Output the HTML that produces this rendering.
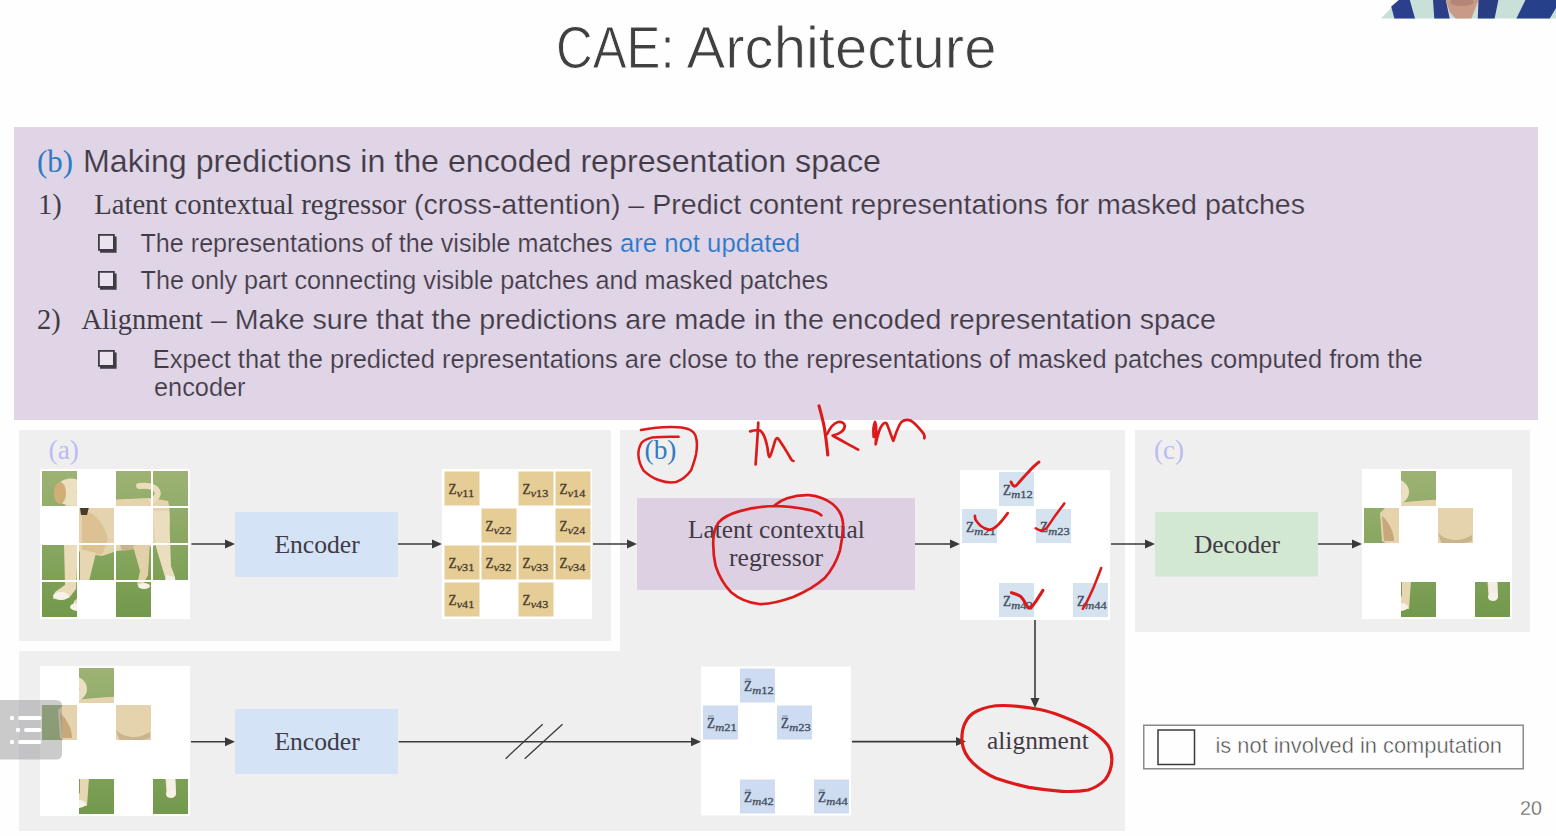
<!DOCTYPE html>
<html><head><meta charset="utf-8"><style>
html,body{margin:0;padding:0;background:#fefefe;width:1556px;height:836px;overflow:hidden}
svg{display:block;position:absolute;left:0;top:0}
</style></head><body>
<svg width="1556" height="836" viewBox="0 0 1556 836">
<text x="556" y="67.7" font-family="Liberation Sans" font-size="58.5" fill="#404040" textLength="118.5" lengthAdjust="spacingAndGlyphs" stroke="#fefefe" stroke-width="0.9">CAE:</text>
<text x="686.5" y="67.7" font-family="Liberation Sans" font-size="58.5" fill="#404040" textLength="310" lengthAdjust="spacingAndGlyphs" stroke="#fefefe" stroke-width="0.9">Architecture</text>
<g><polygon points="1380.9,18.6 1398.9,0 1556,0 1556,18.6" fill="#c9e0d8"/><polygon points="1394.4,18.6 1391.2,6.5 1398.9,0 1409.8,0 1415,18.6" fill="#2c3f8c"/><polygon points="1433,0 1445.8,0 1449.7,18.6 1434.3,18.6" fill="#2d3f86"/><polygon points="1445.8,0 1478.5,0 1471.4,18.6 1455.5,18.6 1449.7,12" fill="#c99a88"/><ellipse cx="1462" cy="2" rx="12" ry="4" fill="#a77a6e" opacity="0.6"/><polygon points="1478.5,0 1498.4,0 1494.6,18.6 1477.8,18.6" fill="#2a3d82"/><polygon points="1525.4,0 1556,0 1556,8 1549.8,18.6 1516.4,18.6" fill="#27408a"/></g>
<rect x="14" y="127" width="1524" height="293" fill="#e0d5e6"/>
<text x="37" y="172.2" font-family="Liberation Serif" font-size="32" fill="#2e7bc4" textLength="36" lengthAdjust="spacingAndGlyphs" >(b)</text>
<text x="83" y="172.4" font-family="Liberation Sans" font-size="32" fill="#413b45" textLength="798" lengthAdjust="spacingAndGlyphs"  stroke="#e0d5e6" stroke-width="0.2">Making predictions in the encoded representation space</text>
<text x="38" y="214" font-family="Liberation Serif" font-size="28.5" fill="#413b45" >1)</text>
<text x="94.2" y="214" font-family="Liberation Serif" font-size="28.5" fill="#413b45" textLength="312" lengthAdjust="spacingAndGlyphs" >Latent contextual regressor</text>
<text x="414" y="214" font-family="Liberation Sans" font-size="28.5" fill="#413b45" textLength="891" lengthAdjust="spacingAndGlyphs"  stroke="#e0d5e6" stroke-width="0.2">(cross-attention) – Predict content representations for masked patches</text>
<rect x="98.9" y="234.9" width="15" height="15" fill="#ebe3ed" stroke="#413b45" stroke-width="1.8"/><path d="M115 236.5 V251.2 H100" fill="none" stroke="#413b45" stroke-width="3.2"/>
<text x="140.5" y="252.2" font-family="Liberation Sans" font-size="25" fill="#413b45" textLength="472" lengthAdjust="spacingAndGlyphs"  stroke="#e0d5e6" stroke-width="0.2">The representations of the visible matches</text>
<text x="620" y="252.2" font-family="Liberation Sans" font-size="25" fill="#2478cc" textLength="180" lengthAdjust="spacingAndGlyphs"  stroke="#e0d5e6" stroke-width="0.2">are not updated</text>
<rect x="98.9" y="271.9" width="15" height="15" fill="#ebe3ed" stroke="#413b45" stroke-width="1.8"/><path d="M115 273.5 V288.2 H100" fill="none" stroke="#413b45" stroke-width="3.2"/>
<text x="140.5" y="288.6" font-family="Liberation Sans" font-size="25" fill="#413b45" textLength="687.5" lengthAdjust="spacingAndGlyphs"  stroke="#e0d5e6" stroke-width="0.2">The only part connecting visible patches and masked patches</text>
<text x="37" y="329.3" font-family="Liberation Serif" font-size="28.5" fill="#413b45" >2)</text>
<text x="81.4" y="329.3" font-family="Liberation Serif" font-size="28.5" fill="#413b45" textLength="121.6" lengthAdjust="spacingAndGlyphs" >Alignment</text>
<text x="203" y="329.3" font-family="Liberation Sans" font-size="28.5" fill="#413b45" textLength="1013" lengthAdjust="spacingAndGlyphs" xml:space="preserve" stroke="#e0d5e6" stroke-width="0.2"> – Make sure that the predictions are made in the encoded representation space</text>
<rect x="98.9" y="350.9" width="15" height="15" fill="#ebe3ed" stroke="#413b45" stroke-width="1.8"/><path d="M115 352.5 V367.2 H100" fill="none" stroke="#413b45" stroke-width="3.2"/>
<text x="152.8" y="367.6" font-family="Liberation Sans" font-size="25" fill="#413b45" textLength="1270" lengthAdjust="spacingAndGlyphs"  stroke="#e0d5e6" stroke-width="0.2">Expect that the predicted representations are close to the representations of masked patches computed from the</text>
<text x="154" y="395.5" font-family="Liberation Sans" font-size="25" fill="#413b45" textLength="91.5" lengthAdjust="spacingAndGlyphs"  stroke="#e0d5e6" stroke-width="0.2">encoder</text>
<rect x="19" y="430" width="1106" height="401" fill="#f0eff0"/>
<rect x="14" y="420" width="606" height="231" fill="#fefefe"/>
<rect x="19" y="430" width="592" height="211" fill="#f0eff0"/>
<rect x="1135" y="430" width="395" height="202" fill="#f0eff0"/>
<text x="48.5" y="458.5" font-family="Liberation Serif" font-size="27.5" fill="#bcbbf0" textLength="30.5" lengthAdjust="spacingAndGlyphs" >(a)</text>
<text x="1154" y="458.5" font-family="Liberation Serif" font-size="27.5" fill="#bcbbf0" textLength="30" lengthAdjust="spacingAndGlyphs" >(c)</text>
<text x="644.5" y="458.5" font-family="Liberation Serif" font-size="28" fill="#2e7bc4" textLength="32" lengthAdjust="spacingAndGlyphs" >(b)</text>
<defs>
<linearGradient id="grass" x1="0" y1="0" x2="0" y2="1">
 <stop offset="0" stop-color="#9db274"/><stop offset="0.5" stop-color="#88a760"/><stop offset="1" stop-color="#72994c"/>
</linearGradient>
<g id="dog">
 <rect x="0" y="0" width="146" height="146" fill="url(#grass)"/>
 <path d="M25 33 C45 30 80 28 110 27 L126 30 C129 40 128 58 126 70 L108 76 L75 80 L60 85 L40 82 L18 70 L16 42 Z" fill="#e4d3ad"/>
 <path d="M74 62 C85 72 98 70 108 64 L108 76 L80 80 Z" fill="#c9b48e"/>
 <path d="M40 40 C52 40 62 52 66 68 L60 84 L40 80 Z" fill="#dcc193"/>
 <path d="M18 45 C24 50 30 60 30 70 L20 70 Z" fill="#c7a87a"/>
 <ellipse cx="29" cy="21" rx="16" ry="13.5" fill="#ece0c2"/>
 <ellipse cx="18" cy="22" rx="6" ry="11" fill="#d1ad77"/>
 <circle cx="36" cy="21" r="1.2" fill="#3a2e20"/>
 <path d="M110 30 C122 22 114 13 97 15" fill="none" stroke="#ebddbb" stroke-width="6" stroke-linecap="round"/>
 <path d="M22 72 L36 74 L34 118 L27 127 L11 128 L13 121 L23 114 Z" fill="#eadcb9"/>
 <path d="M38 78 L54 82 L47 110 L45 138 L30 138 L32 130 L38 125 Z" fill="#e6d7b2"/>
 <path d="M91 75 L108 70 L106 104 L101 114 L95 114 L98 100 Z" fill="#e2d0a8"/>
 <path d="M111 40 L127 40 L129 95 L133 106 L134 126 L125 129 L123 106 L114 76 Z" fill="#ebdeBe"/>
 <path d="M124 104 L133 106 L134 126 L125 129 Z" fill="#f4efe4"/>
 <ellipse cx="19" cy="125" rx="8" ry="4" fill="#f6f2ea"/>
 <ellipse cx="36" cy="136" rx="8" ry="4" fill="#f6f2ea"/>
 <ellipse cx="102" cy="115" rx="6" ry="3" fill="#f6f2ea"/>
 <ellipse cx="129" cy="126" rx="5" ry="4" fill="#f6f2ea"/>
 <path d="M38 37 L47 36 L45 44 L39 44 Z" fill="#4a3a2a"/>
</g>
</defs>
<rect x="40" y="469" width="150" height="150" fill="#ffffff"/>
<clipPath id="c42_471_0"><rect x="0" y="0" width="35" height="35"/></clipPath>
<use href="#dog" transform="translate(42,471)" clip-path="url(#c42_471_0)"/>
<clipPath id="c42_471_1"><rect x="74" y="0" width="35" height="35"/></clipPath>
<use href="#dog" transform="translate(42,471)" clip-path="url(#c42_471_1)"/>
<clipPath id="c42_471_2"><rect x="111" y="0" width="35" height="35"/></clipPath>
<use href="#dog" transform="translate(42,471)" clip-path="url(#c42_471_2)"/>
<clipPath id="c42_471_3"><rect x="37" y="37" width="35" height="35"/></clipPath>
<use href="#dog" transform="translate(42,471)" clip-path="url(#c42_471_3)"/>
<clipPath id="c42_471_4"><rect x="111" y="37" width="35" height="35"/></clipPath>
<use href="#dog" transform="translate(42,471)" clip-path="url(#c42_471_4)"/>
<clipPath id="c42_471_5"><rect x="0" y="74" width="35" height="35"/></clipPath>
<use href="#dog" transform="translate(42,471)" clip-path="url(#c42_471_5)"/>
<clipPath id="c42_471_6"><rect x="37" y="74" width="35" height="35"/></clipPath>
<use href="#dog" transform="translate(42,471)" clip-path="url(#c42_471_6)"/>
<clipPath id="c42_471_7"><rect x="74" y="74" width="35" height="35"/></clipPath>
<use href="#dog" transform="translate(42,471)" clip-path="url(#c42_471_7)"/>
<clipPath id="c42_471_8"><rect x="111" y="74" width="35" height="35"/></clipPath>
<use href="#dog" transform="translate(42,471)" clip-path="url(#c42_471_8)"/>
<clipPath id="c42_471_9"><rect x="0" y="111" width="35" height="35"/></clipPath>
<use href="#dog" transform="translate(42,471)" clip-path="url(#c42_471_9)"/>
<clipPath id="c42_471_10"><rect x="74" y="111" width="35" height="35"/></clipPath>
<use href="#dog" transform="translate(42,471)" clip-path="url(#c42_471_10)"/>
<rect x="40" y="666" width="150" height="150" fill="#ffffff"/>
<clipPath id="c42_668_0"><rect x="37" y="0" width="35" height="35"/></clipPath>
<use href="#dog" transform="translate(42,668)" clip-path="url(#c42_668_0)"/>
<clipPath id="c42_668_1"><rect x="0" y="37" width="35" height="35"/></clipPath>
<use href="#dog" transform="translate(42,668)" clip-path="url(#c42_668_1)"/>
<clipPath id="c42_668_2"><rect x="74" y="37" width="35" height="35"/></clipPath>
<use href="#dog" transform="translate(42,668)" clip-path="url(#c42_668_2)"/>
<clipPath id="c42_668_3"><rect x="37" y="111" width="35" height="35"/></clipPath>
<use href="#dog" transform="translate(42,668)" clip-path="url(#c42_668_3)"/>
<clipPath id="c42_668_4"><rect x="111" y="111" width="35" height="35"/></clipPath>
<use href="#dog" transform="translate(42,668)" clip-path="url(#c42_668_4)"/>
<rect x="1362" y="469" width="150" height="150" fill="#ffffff"/>
<clipPath id="c1364_471_0"><rect x="37" y="0" width="35" height="35"/></clipPath>
<use href="#dog" transform="translate(1364,471)" clip-path="url(#c1364_471_0)"/>
<clipPath id="c1364_471_1"><rect x="0" y="37" width="35" height="35"/></clipPath>
<use href="#dog" transform="translate(1364,471)" clip-path="url(#c1364_471_1)"/>
<clipPath id="c1364_471_2"><rect x="74" y="37" width="35" height="35"/></clipPath>
<use href="#dog" transform="translate(1364,471)" clip-path="url(#c1364_471_2)"/>
<clipPath id="c1364_471_3"><rect x="37" y="111" width="35" height="35"/></clipPath>
<use href="#dog" transform="translate(1364,471)" clip-path="url(#c1364_471_3)"/>
<clipPath id="c1364_471_4"><rect x="111" y="111" width="35" height="35"/></clipPath>
<use href="#dog" transform="translate(1364,471)" clip-path="url(#c1364_471_4)"/>
<rect x="442" y="469" width="150" height="150" fill="#ffffff"/>
<rect x="444.5" y="471.5" width="35" height="34" fill="#e6cc95"/>
<text x="448.5" y="494.0" font-family="Liberation Serif" font-size="14.5" fill="#4a4030" stroke="#4a4030" stroke-width="0.35" textLength="8" lengthAdjust="spacingAndGlyphs">Z</text>
<text x="456.7" y="497.0" font-family="Liberation Serif" font-style="italic" font-size="10.5" fill="#4a4030" stroke="#4a4030" stroke-width="0.3" textLength="17.5" lengthAdjust="spacingAndGlyphs">v<tspan font-style="normal">11</tspan></text>
<rect x="518.5" y="471.5" width="35" height="34" fill="#e6cc95"/>
<text x="522.5" y="494.0" font-family="Liberation Serif" font-size="14.5" fill="#4a4030" stroke="#4a4030" stroke-width="0.35" textLength="8" lengthAdjust="spacingAndGlyphs">Z</text>
<text x="530.7" y="497.0" font-family="Liberation Serif" font-style="italic" font-size="10.5" fill="#4a4030" stroke="#4a4030" stroke-width="0.3" textLength="17.5" lengthAdjust="spacingAndGlyphs">v<tspan font-style="normal">13</tspan></text>
<rect x="555.5" y="471.5" width="35" height="34" fill="#e6cc95"/>
<text x="559.5" y="494.0" font-family="Liberation Serif" font-size="14.5" fill="#4a4030" stroke="#4a4030" stroke-width="0.35" textLength="8" lengthAdjust="spacingAndGlyphs">Z</text>
<text x="567.7" y="497.0" font-family="Liberation Serif" font-style="italic" font-size="10.5" fill="#4a4030" stroke="#4a4030" stroke-width="0.3" textLength="17.5" lengthAdjust="spacingAndGlyphs">v<tspan font-style="normal">14</tspan></text>
<rect x="481.5" y="508.5" width="35" height="34" fill="#e6cc95"/>
<text x="485.5" y="531.0" font-family="Liberation Serif" font-size="14.5" fill="#4a4030" stroke="#4a4030" stroke-width="0.35" textLength="8" lengthAdjust="spacingAndGlyphs">Z</text>
<text x="493.7" y="534.0" font-family="Liberation Serif" font-style="italic" font-size="10.5" fill="#4a4030" stroke="#4a4030" stroke-width="0.3" textLength="17.5" lengthAdjust="spacingAndGlyphs">v<tspan font-style="normal">22</tspan></text>
<rect x="555.5" y="508.5" width="35" height="34" fill="#e6cc95"/>
<text x="559.5" y="531.0" font-family="Liberation Serif" font-size="14.5" fill="#4a4030" stroke="#4a4030" stroke-width="0.35" textLength="8" lengthAdjust="spacingAndGlyphs">Z</text>
<text x="567.7" y="534.0" font-family="Liberation Serif" font-style="italic" font-size="10.5" fill="#4a4030" stroke="#4a4030" stroke-width="0.3" textLength="17.5" lengthAdjust="spacingAndGlyphs">v<tspan font-style="normal">24</tspan></text>
<rect x="444.5" y="545.5" width="35" height="34" fill="#e6cc95"/>
<text x="448.5" y="568.0" font-family="Liberation Serif" font-size="14.5" fill="#4a4030" stroke="#4a4030" stroke-width="0.35" textLength="8" lengthAdjust="spacingAndGlyphs">Z</text>
<text x="456.7" y="571.0" font-family="Liberation Serif" font-style="italic" font-size="10.5" fill="#4a4030" stroke="#4a4030" stroke-width="0.3" textLength="17.5" lengthAdjust="spacingAndGlyphs">v<tspan font-style="normal">31</tspan></text>
<rect x="481.5" y="545.5" width="35" height="34" fill="#e6cc95"/>
<text x="485.5" y="568.0" font-family="Liberation Serif" font-size="14.5" fill="#4a4030" stroke="#4a4030" stroke-width="0.35" textLength="8" lengthAdjust="spacingAndGlyphs">Z</text>
<text x="493.7" y="571.0" font-family="Liberation Serif" font-style="italic" font-size="10.5" fill="#4a4030" stroke="#4a4030" stroke-width="0.3" textLength="17.5" lengthAdjust="spacingAndGlyphs">v<tspan font-style="normal">32</tspan></text>
<rect x="518.5" y="545.5" width="35" height="34" fill="#e6cc95"/>
<text x="522.5" y="568.0" font-family="Liberation Serif" font-size="14.5" fill="#4a4030" stroke="#4a4030" stroke-width="0.35" textLength="8" lengthAdjust="spacingAndGlyphs">Z</text>
<text x="530.7" y="571.0" font-family="Liberation Serif" font-style="italic" font-size="10.5" fill="#4a4030" stroke="#4a4030" stroke-width="0.3" textLength="17.5" lengthAdjust="spacingAndGlyphs">v<tspan font-style="normal">33</tspan></text>
<rect x="555.5" y="545.5" width="35" height="34" fill="#e6cc95"/>
<text x="559.5" y="568.0" font-family="Liberation Serif" font-size="14.5" fill="#4a4030" stroke="#4a4030" stroke-width="0.35" textLength="8" lengthAdjust="spacingAndGlyphs">Z</text>
<text x="567.7" y="571.0" font-family="Liberation Serif" font-style="italic" font-size="10.5" fill="#4a4030" stroke="#4a4030" stroke-width="0.3" textLength="17.5" lengthAdjust="spacingAndGlyphs">v<tspan font-style="normal">34</tspan></text>
<rect x="444.5" y="582.5" width="35" height="34" fill="#e6cc95"/>
<text x="448.5" y="605.0" font-family="Liberation Serif" font-size="14.5" fill="#4a4030" stroke="#4a4030" stroke-width="0.35" textLength="8" lengthAdjust="spacingAndGlyphs">Z</text>
<text x="456.7" y="608.0" font-family="Liberation Serif" font-style="italic" font-size="10.5" fill="#4a4030" stroke="#4a4030" stroke-width="0.3" textLength="17.5" lengthAdjust="spacingAndGlyphs">v<tspan font-style="normal">41</tspan></text>
<rect x="518.5" y="582.5" width="35" height="34" fill="#e6cc95"/>
<text x="522.5" y="605.0" font-family="Liberation Serif" font-size="14.5" fill="#4a4030" stroke="#4a4030" stroke-width="0.35" textLength="8" lengthAdjust="spacingAndGlyphs">Z</text>
<text x="530.7" y="608.0" font-family="Liberation Serif" font-style="italic" font-size="10.5" fill="#4a4030" stroke="#4a4030" stroke-width="0.3" textLength="17.5" lengthAdjust="spacingAndGlyphs">v<tspan font-style="normal">43</tspan></text>
<rect x="960" y="470" width="150" height="150" fill="#ffffff"/>
<rect x="999" y="472" width="35" height="34" fill="#d5e2f0"/>
<text x="1003" y="494.5" font-family="Liberation Serif" font-size="14.5" fill="#45505e" stroke="#45505e" stroke-width="0.35" textLength="8" lengthAdjust="spacingAndGlyphs">Z</text>
<text x="1011.2" y="497.5" font-family="Liberation Serif" font-style="italic" font-size="10.5" fill="#45505e" stroke="#45505e" stroke-width="0.3" textLength="21.5" lengthAdjust="spacingAndGlyphs">m<tspan font-style="normal">12</tspan></text>
<rect x="962" y="509" width="35" height="34" fill="#d5e2f0"/>
<text x="966" y="531.5" font-family="Liberation Serif" font-size="14.5" fill="#45505e" stroke="#45505e" stroke-width="0.35" textLength="8" lengthAdjust="spacingAndGlyphs">Z</text>
<text x="974.2" y="534.5" font-family="Liberation Serif" font-style="italic" font-size="10.5" fill="#45505e" stroke="#45505e" stroke-width="0.3" textLength="21.5" lengthAdjust="spacingAndGlyphs">m<tspan font-style="normal">21</tspan></text>
<rect x="1036" y="509" width="35" height="34" fill="#d5e2f0"/>
<text x="1040" y="531.5" font-family="Liberation Serif" font-size="14.5" fill="#45505e" stroke="#45505e" stroke-width="0.35" textLength="8" lengthAdjust="spacingAndGlyphs">Z</text>
<text x="1048.2" y="534.5" font-family="Liberation Serif" font-style="italic" font-size="10.5" fill="#45505e" stroke="#45505e" stroke-width="0.3" textLength="21.5" lengthAdjust="spacingAndGlyphs">m<tspan font-style="normal">23</tspan></text>
<rect x="999" y="583" width="35" height="34" fill="#d5e2f0"/>
<text x="1003" y="605.5" font-family="Liberation Serif" font-size="14.5" fill="#45505e" stroke="#45505e" stroke-width="0.35" textLength="8" lengthAdjust="spacingAndGlyphs">Z</text>
<text x="1011.2" y="608.5" font-family="Liberation Serif" font-style="italic" font-size="10.5" fill="#45505e" stroke="#45505e" stroke-width="0.3" textLength="21.5" lengthAdjust="spacingAndGlyphs">m<tspan font-style="normal">42</tspan></text>
<rect x="1073" y="583" width="35" height="34" fill="#d5e2f0"/>
<text x="1077" y="605.5" font-family="Liberation Serif" font-size="14.5" fill="#45505e" stroke="#45505e" stroke-width="0.35" textLength="8" lengthAdjust="spacingAndGlyphs">Z</text>
<text x="1085.2" y="608.5" font-family="Liberation Serif" font-style="italic" font-size="10.5" fill="#45505e" stroke="#45505e" stroke-width="0.3" textLength="21.5" lengthAdjust="spacingAndGlyphs">m<tspan font-style="normal">44</tspan></text>
<rect x="701" y="666.5" width="150" height="149" fill="#ffffff"/>
<rect x="740" y="668.5" width="35" height="34" fill="#cddcf1"/>
<text x="744" y="691.0" font-family="Liberation Serif" font-size="14.5" fill="#45505e" stroke="#45505e" stroke-width="0.35" textLength="8" lengthAdjust="spacingAndGlyphs">Z</text>
<text x="752.2" y="694.0" font-family="Liberation Serif" font-style="italic" font-size="10.5" fill="#45505e" stroke="#45505e" stroke-width="0.3" textLength="21.5" lengthAdjust="spacingAndGlyphs">m<tspan font-style="normal">12</tspan></text>
<rect x="745.2" y="678.7" width="5.5" height="0.7" fill="#45505e" opacity="0.8"/>
<rect x="703" y="705.5" width="35" height="34" fill="#cddcf1"/>
<text x="707" y="728.0" font-family="Liberation Serif" font-size="14.5" fill="#45505e" stroke="#45505e" stroke-width="0.35" textLength="8" lengthAdjust="spacingAndGlyphs">Z</text>
<text x="715.2" y="731.0" font-family="Liberation Serif" font-style="italic" font-size="10.5" fill="#45505e" stroke="#45505e" stroke-width="0.3" textLength="21.5" lengthAdjust="spacingAndGlyphs">m<tspan font-style="normal">21</tspan></text>
<rect x="708.2" y="715.7" width="5.5" height="0.7" fill="#45505e" opacity="0.8"/>
<rect x="777" y="705.5" width="35" height="34" fill="#cddcf1"/>
<text x="781" y="728.0" font-family="Liberation Serif" font-size="14.5" fill="#45505e" stroke="#45505e" stroke-width="0.35" textLength="8" lengthAdjust="spacingAndGlyphs">Z</text>
<text x="789.2" y="731.0" font-family="Liberation Serif" font-style="italic" font-size="10.5" fill="#45505e" stroke="#45505e" stroke-width="0.3" textLength="21.5" lengthAdjust="spacingAndGlyphs">m<tspan font-style="normal">23</tspan></text>
<rect x="782.2" y="715.7" width="5.5" height="0.7" fill="#45505e" opacity="0.8"/>
<rect x="740" y="779.5" width="35" height="34" fill="#cddcf1"/>
<text x="744" y="802.0" font-family="Liberation Serif" font-size="14.5" fill="#45505e" stroke="#45505e" stroke-width="0.35" textLength="8" lengthAdjust="spacingAndGlyphs">Z</text>
<text x="752.2" y="805.0" font-family="Liberation Serif" font-style="italic" font-size="10.5" fill="#45505e" stroke="#45505e" stroke-width="0.3" textLength="21.5" lengthAdjust="spacingAndGlyphs">m<tspan font-style="normal">42</tspan></text>
<rect x="745.2" y="789.7" width="5.5" height="0.7" fill="#45505e" opacity="0.8"/>
<rect x="814" y="779.5" width="35" height="34" fill="#cddcf1"/>
<text x="818" y="802.0" font-family="Liberation Serif" font-size="14.5" fill="#45505e" stroke="#45505e" stroke-width="0.35" textLength="8" lengthAdjust="spacingAndGlyphs">Z</text>
<text x="826.2" y="805.0" font-family="Liberation Serif" font-style="italic" font-size="10.5" fill="#45505e" stroke="#45505e" stroke-width="0.3" textLength="21.5" lengthAdjust="spacingAndGlyphs">m<tspan font-style="normal">44</tspan></text>
<rect x="819.2" y="789.7" width="5.5" height="0.7" fill="#45505e" opacity="0.8"/>
<rect x="235" y="512" width="163" height="65" fill="#d4e3f6"/>
<text x="274.4" y="552.5" font-family="Liberation Serif" font-size="25.5" fill="#413b45" textLength="85.4" lengthAdjust="spacingAndGlyphs" >Encoder</text>
<rect x="235" y="709" width="163" height="65" fill="#d4e3f6"/>
<text x="274.4" y="750.4" font-family="Liberation Serif" font-size="25.5" fill="#413b45" textLength="85.4" lengthAdjust="spacingAndGlyphs" >Encoder</text>
<rect x="637" y="498" width="278" height="92" fill="#ddd0e3"/>
<text x="688" y="538" font-family="Liberation Serif" font-size="25.5" fill="#413b45" textLength="176.7" lengthAdjust="spacingAndGlyphs" >Latent contextual</text>
<text x="729" y="565.8" font-family="Liberation Serif" font-size="25.5" fill="#413b45" textLength="94" lengthAdjust="spacingAndGlyphs" >regressor</text>
<rect x="1155" y="512" width="163" height="64.5" fill="#d3e8d3"/>
<text x="1194" y="552.6" font-family="Liberation Serif" font-size="25.5" fill="#413b45" textLength="86" lengthAdjust="spacingAndGlyphs" >Decoder</text>
<text x="987" y="748.8" font-family="Liberation Serif" font-size="25.5" fill="#413b45" textLength="101.7" lengthAdjust="spacingAndGlyphs" >alignment</text>
<line x1="191.5" y1="544" x2="227" y2="544" stroke="#3a3a3a" stroke-width="1.6"/>
<polygon points="235,544 225,539.5 225,548.5" fill="#3a3a3a"/>
<line x1="398" y1="544" x2="434" y2="544" stroke="#3a3a3a" stroke-width="1.6"/>
<polygon points="442,544 432,539.5 432,548.5" fill="#3a3a3a"/>
<line x1="593" y1="544" x2="629" y2="544" stroke="#3a3a3a" stroke-width="1.6"/>
<polygon points="637,544 627,539.5 627,548.5" fill="#3a3a3a"/>
<line x1="915" y1="544" x2="952" y2="544" stroke="#3a3a3a" stroke-width="1.6"/>
<polygon points="960,544 950,539.5 950,548.5" fill="#3a3a3a"/>
<line x1="1111" y1="544" x2="1147" y2="544" stroke="#3a3a3a" stroke-width="1.6"/>
<polygon points="1155,544 1145,539.5 1145,548.5" fill="#3a3a3a"/>
<line x1="1318" y1="544" x2="1354" y2="544" stroke="#3a3a3a" stroke-width="1.6"/>
<polygon points="1362,544 1352,539.5 1352,548.5" fill="#3a3a3a"/>
<line x1="191" y1="741.7" x2="227" y2="741.7" stroke="#3a3a3a" stroke-width="1.6"/>
<polygon points="235,741.7 225,737.2 225,746.2" fill="#3a3a3a"/>
<line x1="398.7" y1="741.7" x2="693" y2="741.7" stroke="#3a3a3a" stroke-width="1.6"/>
<polygon points="701,741.7 691,737.2 691,746.2" fill="#3a3a3a"/>
<line x1="852" y1="741.6" x2="958" y2="741.6" stroke="#3a3a3a" stroke-width="1.6"/>
<polygon points="966,741.6 956,737.1 956,746.1" fill="#3a3a3a"/>
<line x1="1035" y1="620" x2="1035" y2="700" stroke="#3a3a3a" stroke-width="1.6"/>
<polygon points="1035,708 1030.5,698 1039.5,698" fill="#3a3a3a"/>
<line x1="505.6" y1="758.7" x2="542.7" y2="724.3" stroke="#3a3a3a" stroke-width="1.3"/>
<line x1="524.7" y1="758.7" x2="562.5" y2="724.3" stroke="#3a3a3a" stroke-width="1.3"/>
<rect x="1143.75" y="725.25" width="379.5" height="43.5" fill="none" stroke="#8a8a8a" stroke-width="1.5"/>
<rect x="1158" y="730" width="36.5" height="34.5" fill="none" stroke="#3a3a3a" stroke-width="1.5"/>
<text x="1215.5" y="753.4" font-family="Liberation Sans" font-size="21.5" fill="#4a4a4a" textLength="286.5" lengthAdjust="spacingAndGlyphs"  stroke="#fefefe" stroke-width="0.45">is not involved in computation</text>
<text x="1520" y="815" font-family="Liberation Sans" font-size="21" fill="#666666" textLength="22" lengthAdjust="spacingAndGlyphs"  stroke="#fefefe" stroke-width="0.3">20</text>
<path d="M640.9 430 C650 428.5 660 427.3 670.2 427.1 C678 427 684 427.6 688.6 429.2 C693 431 695.5 434 696.2 438.4 C697.5 443 697 448 696.2 453.5 C695 460 693 465 691.1 470.3 C687 476 682 480 676.1 482 C670 483 664 482 659.3 480.3 C653 478 647 474 643.4 470.3 C640 465 638.7 460 638.4 455.2 C638.2 450 639.5 446 641.7 442.6 C644 440 648 438.5 651.8 437.6 C660 436.8 670 436.6 678.6 436.8" fill="none" stroke="#dc1a1a" stroke-width="2.5" stroke-linecap="round" stroke-linejoin="round"/>
<path d="M750.2 431.4 C753 430.5 757 430 760 430.5 C764 433 766 440 767.5 448 C768 453 768.5 456 769.5 457 C771 456 773 448 775 441 C776 438 777 437.5 778.5 439 C782 444 787 452 791 459 C792 460.5 793 461 793.5 461" fill="none" stroke="#dc1a1a" stroke-width="2.7" stroke-linecap="round" stroke-linejoin="round"/>
<path d="M758.3 422.7 C757.6 437 756.5 452 755.6 464.5" fill="none" stroke="#dc1a1a" stroke-width="2.7" stroke-linecap="round" stroke-linejoin="round"/>
<path d="M819 405.8 C821 413 823.5 422 824.5 428.7 C826 438 827 447 827.8 455" fill="none" stroke="#dc1a1a" stroke-width="3.1" stroke-linecap="round" stroke-linejoin="round"/>
<path d="M827.2 434 C830 428 834 423 838 422 C841.5 421.5 844.5 423 844.7 426 C845 430 840 434 832.6 435.5 C840 440 850 445 858.2 449.7" fill="none" stroke="#dc1a1a" stroke-width="2.7" stroke-linecap="round" stroke-linejoin="round"/>
<path d="M873.7 436.8 C873 430 873.5 425 875 422 C876.5 424 876.5 436 875.7 444.3 C877 438 879.5 428 882.5 424.7 C884 423 885.5 422.5 886.5 423.3 C889 428 891 436 893.3 440.9 C895 436 898 426 901.4 422 C904 420 907.5 419.5 910.8 420.6 C916 424 920 429 923 432.8 C924.5 435 924.8 437 924.3 438.2" fill="none" stroke="#dc1a1a" stroke-width="2.7" stroke-linecap="round" stroke-linejoin="round"/>
<path d="M821.3 515.3 C818 512.5 814 510.8 808.9 509.9 C798 507.5 786 506 774.7 506 C762 506.5 749 508.5 738.9 511.4 C730 514 723 517.5 718.7 522.3 C714.5 528 713 536 713.2 544.1 C713.3 552 714 559 715.6 565.9 C719 576 724 585 731.1 592.3 C739 599 749 603 759.1 604 C771 604.5 782 601 793.3 597 C805 592 816 586 824.4 578.3 C832 570 837 560 840 550.3 C842 541 843 532 843.1 523.9 C842.5 515 839 509 832.2 503.7 C826 499 818 496 808.9 495.1 C801 494.8 794 496 787.1 498.2 C782 500 778 502.5 774.7 505.2" fill="none" stroke="#dc1a1a" stroke-width="2.7" stroke-linecap="round" stroke-linejoin="round"/>
<path d="M962 742 C961 728 966 716 977 711 C985 707 994 705.5 1003 705.5 C1014 705.5 1026 707 1037 709 C1043 710 1049 711.7 1055.3 713.7 C1067 718 1078 722.5 1088.2 728.2 C1096 733 1103 739 1107.9 745.3 C1110.5 749.5 1111.8 754 1111.8 758.4 C1112 766 1110 773 1105.3 779.5 C1100 785 1094.5 788 1088.2 790 C1080 791.5 1071 791.8 1061.8 791.3 C1050 790.5 1040 789.3 1028.9 787.4 C1018 785 1007 782 996 778.2 C987 774.5 979 769 972.4 762.4 C967 757 963 750 962 742" fill="none" stroke="#dc1a1a" stroke-width="3.2" stroke-linecap="round" stroke-linejoin="round"/>
<path d="M1011 481.9 C1012 484 1013 485.8 1014.2 486.2 C1015.5 486.3 1017 485 1018.5 483 C1022 479 1025 475.5 1028.2 472.2 C1032 468 1035.5 464.5 1039 462" fill="none" stroke="#dc1a1a" stroke-width="2.9" stroke-linecap="round" stroke-linejoin="round"/>
<path d="M974.9 515.8 C975 517 975.2 518.5 975.5 519.6 C977 522 978.7 524.2 980.8 526 C983.5 528 986.5 529.5 989.4 529.8 C992.5 529.6 995.3 527.6 998 525 C1001.5 521.5 1004.5 517.5 1007.7 513.1" fill="none" stroke="#dc1a1a" stroke-width="2.7" stroke-linecap="round" stroke-linejoin="round"/>
<path d="M1035.7 528.2 C1037.5 529.3 1039.3 530.2 1041.1 530.4 C1043 530.3 1044.8 529.5 1046.5 528.2 C1049 525 1051.5 521 1054 517.4 C1057.5 512.5 1061 508 1064.3 503.4" fill="none" stroke="#dc1a1a" stroke-width="2.5" stroke-linecap="round" stroke-linejoin="round"/>
<path d="M1011.5 592.7 C1014.5 593.5 1017.7 594.5 1020.5 596.3 C1023.5 599 1025.5 603.5 1027.7 607 C1028.5 607.7 1029.5 608 1030.4 607.9 C1032.3 606.5 1034 604 1035.7 601.6 C1038.5 597.5 1040.7 594 1042.9 590.4" fill="none" stroke="#dc1a1a" stroke-width="3.1" stroke-linecap="round" stroke-linejoin="round"/>
<path d="M1082.8 608.8 C1083.8 607 1085 605 1086 603.4 C1089 597.5 1091.5 592 1094 586.4 C1096.5 580 1099 574 1101.2 568" fill="none" stroke="#dc1a1a" stroke-width="2.5" stroke-linecap="round" stroke-linejoin="round"/>
<path d="M0 700 H56 Q62 700 62 706 V753.5 Q62 759.5 56 759.5 H0 Z" fill="rgba(140,140,142,0.45)"/>
<circle cx="12" cy="718" r="2.2" fill="#ffffff"/>
<line x1="20" y1="718" x2="39.5" y2="718" stroke="#ffffff" stroke-width="4" stroke-linecap="round"/>
<circle cx="18" cy="730" r="2.2" fill="#ffffff"/>
<line x1="26" y1="730" x2="39.5" y2="730" stroke="#ffffff" stroke-width="4" stroke-linecap="round"/>
<circle cx="12" cy="742" r="2.2" fill="#ffffff"/>
<line x1="20" y1="742" x2="39.5" y2="742" stroke="#ffffff" stroke-width="4" stroke-linecap="round"/>
</svg>
</body></html>
